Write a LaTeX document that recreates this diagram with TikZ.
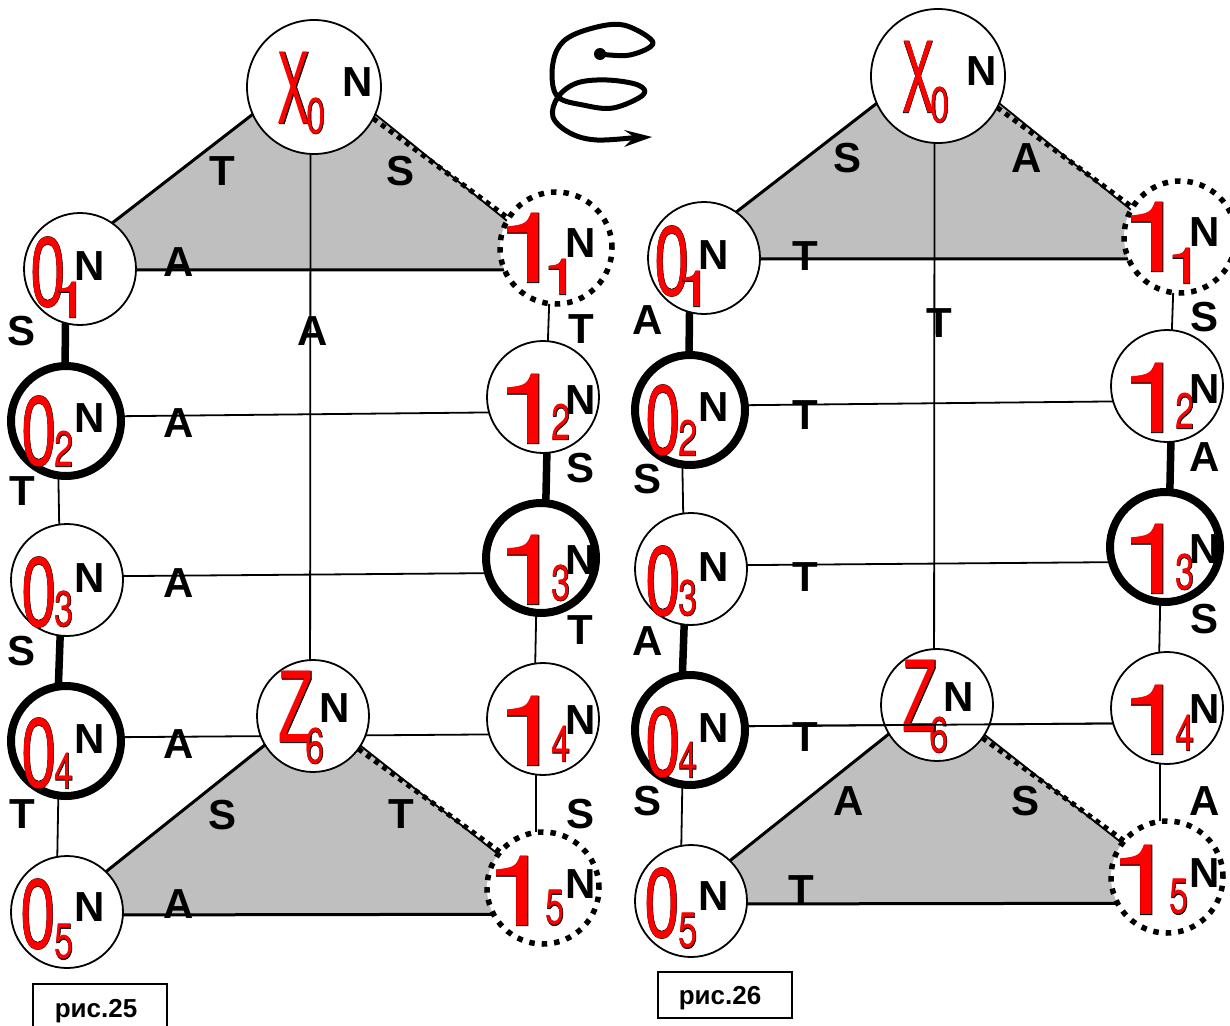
\documentclass[tikz,border=0pt]{standalone}
\usepackage{fontspec}
\setmainfont{Liberation Sans}
\newfontfamily\gfill{TeX Gyre Heros}
\newfontfamily\gline{TeX Gyre Heros}[FakeBold=0.7]
\newfontfamily\sfill{TeX Gyre Heros}
\newfontfamily\sline{TeX Gyre Heros}[FakeBold=1.2]
\definecolor{polygrey}{HTML}{BFBFBF}
\definecolor{glyphred}{HTML}{FF0000}
\pgfdeclarelayer{bg}
\pgfsetlayers{bg,main}
\newcommand\bigglyph[3]{\scalebox{#1}[#2]{\fontsize{40}{40}\selectfont\rlap{\gline\textcolor{black}{#3}}\textcolor{glyphred}{\gfill #3}}}
\newcommand\subglyph[3]{\scalebox{#1}[#2]{\fontsize{40}{40}\selectfont\rlap{\sline\textcolor{black}{#3}}\textcolor{glyphred}{\sfill #3}}}
\tikzset{
  x=1pt,y=-1pt,
  thinring/.style={circle,draw=black,fill=white,line width=1.8pt,inner sep=0,outer sep=0,minimum size=112pt},
  thickring/.style={circle,draw=black,fill=white,line width=8pt,inner sep=0,outer sep=0,minimum size=110pt},
  dotring/.style={circle,draw=black,fill=white,line width=5.5pt,dash pattern=on 5.5pt off 7pt,inner sep=0,outer sep=0,minimum size=112pt},
  bigring/.style={circle,draw=black,fill=white,line width=1.8pt,inner sep=0,outer sep=0,minimum size=134pt},
  glyph/.style={inner sep=0,outer sep=0},
  lett/.style={inner sep=0,outer sep=0,font=\fontsize{42}{42}\selectfont\bfseries},
  thinedge/.style={line width=1.8pt,black},
  boldedge/.style={line width=7.5pt,black},
  midedge/.style={line width=3pt,black},
  dotedge/.style={line width=5pt,black,dash pattern=on 5pt off 5pt},
  capbox/.style={draw=black,line width=1.8pt,fill=white,inner sep=0,outer sep=0,minimum width=134pt,anchor=north west},
  captext/.style={inner sep=0,outer sep=0,font=\fontsize{26}{26}\selectfont\bfseries},
}
% #1 = prefix of the node names
\newcommand\wholeside[1]{%
  \node[bigring] (#1x) at (314,87) {};
  \node[thinring] (#1o1) at (80,269) {};
  \node[thickring] (#1o2) at (66,421) {};
  \node[thinring] (#1o3) at (67,580) {};
  \node[thickring] (#1o4) at (66,741) {};
  \node[thinring] (#1o5) at (67,912) {};
  \node[dotring] (#1e1) at (556,248) {};
  \node[thinring] (#1e2) at (543,397) {};
  \node[thickring] (#1e3) at (541,558) {};
  \node[thinring] (#1e4) at (543,719) {};
  \node[dotring] (#1e5) at (543,888) {};
  \node[thinring] (#1z) at (313,716) {};
  \begin{pgfonlayer}{bg}
    \fill[polygrey] (#1x.204) -- (#1x.center) -- (#1x.336) -- (#1e1.151) -- (#1e1.203) -- (#1o1.359) -- (#1o1.55) -- cycle;
    \fill[polygrey] (#1z.211) -- (#1z.center) -- (#1z.328) -- (#1e5.143) -- (#1e5.208) -- (#1o5.357) -- (#1o5.46) -- cycle;
    \draw[midedge] (#1x.204) -- (#1o1.55);
    \draw[thinedge] (#1x.336) -- (#1e1.151);
    \draw[dotedge] (#1x.332) -- (#1e1.148);
    \draw[midedge] (#1o1.359) -- (#1e1.203);
    \draw[thinedge] (#1x.267) -- (#1z.93);
    \draw[boldedge] (#1o1.255) -- (#1o2.91);
    \draw[thinedge] (#1o2.262) -- (#1o3.98);
    \draw[boldedge] (#1o3.263) -- (#1o4.98);
    \draw[thinedge] (#1o4.262) -- (#1o5.100);
    \draw[thinedge] (#1e1.263) -- (#1e2.85);
    \draw[boldedge] (#1e2.274) -- (#1e3.85);
    \draw[thinedge] (#1e3.265) -- (#1e4.98);
    \draw[thinedge] (#1e4.263) -- (#1e5.97);
    \draw[thinedge] (#1o2.5) -- (#1e2.196);
    \draw[thinedge] (#1o3.4) -- (#1e3.196);
    \draw[thinedge] (#1o4.4) -- (#1e4.196);
    \draw[midedge] (#1o5.357) -- (#1e5.208);
    \draw[midedge] (#1z.211) -- (#1o5.46);
    \draw[thinedge] (#1z.328) -- (#1e5.143);
    \draw[dotedge] (#1z.324) -- (#1e5.140);
  \end{pgfonlayer}
  \node[glyph] (#1gx) at (294,88) {\bigglyph{1.2}{2.45}{X}};
  \node[glyph] (#1sx) at (316,116) {\subglyph{0.85}{1.25}{0}};
  \node[glyph] (#1go1) at (48,272) {\bigglyph{1.6}{2.45}{0}};
  \node[glyph] (#1so1) at (69,277) {};
  \node[glyph] (#1ss1) at (71,300) {\subglyph{1.7}{1.25}{1}};
  \node[glyph] (#1go2) at (39,431) {\bigglyph{1.6}{2.45}{0}};
  \node[glyph] (#1so2) at (64,449) {\subglyph{0.85}{1.25}{2}};
  \node[glyph] (#1go3) at (39,592) {\bigglyph{1.6}{2.45}{0}};
  \node[glyph] (#1so3) at (64,609) {\subglyph{0.85}{1.25}{3}};
  \node[glyph] (#1go4) at (39,753) {\bigglyph{1.6}{2.45}{0}};
  \node[glyph] (#1so4) at (64,771) {\subglyph{0.85}{1.25}{4}};
  \node[glyph] (#1go5) at (38,914) {\bigglyph{1.6}{2.45}{0}};
  \node[glyph] (#1so5) at (64,942) {\subglyph{0.85}{1.25}{5}};
  \node[glyph] (#1ge1) at (530,248) {\bigglyph{3.2}{2.45}{1}};
  \node[glyph] (#1se1) at (561,277) {\subglyph{1.7}{1.25}{1}};
  \node[glyph] (#1ge2) at (530,409) {\bigglyph{3.2}{2.45}{1}};
  \node[glyph] (#1se2) at (561,422) {\subglyph{0.85}{1.25}{2}};
  \node[glyph] (#1ge3) at (530,570) {\bigglyph{3.2}{2.45}{1}};
  \node[glyph] (#1se3) at (561,583) {\subglyph{0.85}{1.25}{3}};
  \node[glyph] (#1ge4) at (530,731) {\bigglyph{3.2}{2.45}{1}};
  \node[glyph] (#1se4) at (561,744) {\subglyph{0.85}{1.25}{4}};
  \node[glyph] (#1ge5) at (519,891) {\bigglyph{3.2}{2.45}{1}};
  \node[glyph] (#1se5) at (555,908) {\subglyph{0.85}{1.25}{5}};
  \node[glyph] (#1gz) at (296,707) {\bigglyph{1.4}{2.45}{Z}};
  \node[glyph] (#1sz) at (315,746) {\subglyph{0.85}{1.25}{6}};
  \foreach \px/\py [count=\i] in {358/82,90/266,90/418,90/578,90/739,90/907,581/243,581/400,581/560,581/720,581/884,335/708}
    \node[lett] (#1n\i) at (\px,\py) {N};
}
\begin{document}
\begin{tikzpicture}
\useasboundingbox (0,0) rectangle (1230,1025);
\begin{scope}\wholeside{l}\end{scope}
\begin{scope}[shift={(624,-11)}]\wholeside{r}\end{scope}
\draw[thinedge] (ro4.4) -- (re4.196);
\foreach \t/\px/\py [count=\i] in {T/222/171,S/401/171,A/179/262,A/313/331,S/22/331,T/581/329,A/179/423,T/22/491,S/580/468,A/179/583,T/580/630,S/22/651,A/179/744,S/223/815,T/401/814,T/22/814,S/580/814,A/179/904,
 S/847/158,A/1027/158,T/805/256,T/939/323,A/648/320,S/1204/317,T/805/415,S/647/479,A/1205/457,T/805/577,A/648/641,S/1204/619,T/805/737,A/849/801,S/1025/801,S/647/801,A/1205/801,T/801/890}
  \node[lett] (m\i) at (\px,\py) {\t};
\node[capbox,minimum height=60pt] (c1) at (33,984) {};
\node[captext] (c1t) at (96,1011) {рис.25};
\node[capbox,minimum height=46pt] (c2) at (658,972) {};
\node[captext] (c2t) at (720,998) {рис.26};
\coordinate (spiralstart) at (600,54);
\coordinate (spiralend) at (640,137);
\fill[black] (spiralstart) circle (6);
\draw[line width=5pt,black,line cap=round,line join=round] plot[smooth,tension=0.6] coordinates {(600,54) (630,55) (653,43) (630,27) (607,25) (573,35) (557,50) (552,75) (558,97) (583,105) (613,108) (643,95) (638,85) (607,80) (577,83) (558,97) (553,117) (570,133) (597,140) (640,137)};
\fill[black] (652,137) -- (624,130) -- (634,137) -- (624,147) -- cycle;
\end{tikzpicture}
\end{document}
